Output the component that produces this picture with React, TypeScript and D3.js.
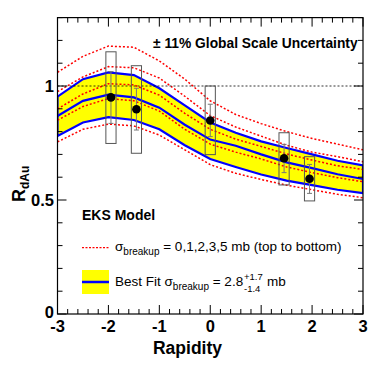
import React from "react";
import * as d3 from "d3";

// rapidity nodes where the model curves were read
const rapidity = [-3, -2.5, -2, -1.5, -1, -0.5, 0, 0.5, 1, 1.5, 2, 2.5, 3];

// EKS model, sigma_breakup = 0,1,2,3,5 mb
const eks0mb = [1.06, 1.13, 1.175, 1.17, 1.11, 1.03, 0.935, 0.875, 0.835, 0.8, 0.77, 0.745, 0.72];
const eks1mb = [0.975, 1.04, 1.085, 1.08, 1.035, 0.955, 0.87, 0.82, 0.78, 0.74, 0.71, 0.69, 0.668];
const eks2mb = [0.9, 0.965, 1.01, 1.005, 0.96, 0.88, 0.81, 0.767, 0.735, 0.702, 0.675, 0.65, 0.634];
const eks3mb = [0.85, 0.91, 0.945, 0.935, 0.89, 0.81, 0.745, 0.71, 0.68, 0.645, 0.62, 0.598, 0.58];
const eks5mb = [0.755, 0.81, 0.833, 0.825, 0.785, 0.72, 0.655, 0.617, 0.59, 0.565, 0.545, 0.525, 0.51];

// best fit band
const fitUpper = [0.953, 1.03, 1.06, 1.048, 0.99, 0.915, 0.84, 0.795, 0.757, 0.728, 0.7, 0.672, 0.652];
const fitCentral = [0.868, 0.935, 0.962, 0.95, 0.905, 0.83, 0.765, 0.738, 0.7, 0.665, 0.64, 0.613, 0.592];
const fitLower = [0.781, 0.84, 0.863, 0.851, 0.81, 0.74, 0.68, 0.645, 0.612, 0.585, 0.565, 0.545, 0.53];

// data points
const dataY = [-1.95, -1.45, 0.0, 1.45, 1.95];
const dataR = [0.95, 0.898, 0.849, 0.683, 0.593];
const statHi = [1.063, 0.99, 0.92, 0.744, 0.656];
const statLo = [0.836, 0.807, 0.778, 0.62, 0.529];
const sysHi = [1.15, 1.089, 1.0, 0.795, 0.69];
const sysLo = [0.748, 0.705, 0.699, 0.566, 0.496];

const xTickLabels = [-3, -2, -1, 0, 1, 2, 3];
const yTickLabels = [0, 0.5, 1];

const W = 383, H = 370;
const L = 57.5, R = 363, T = 17.6, B = 314;
const FONT = "Liberation Sans, Arial, Helvetica, sans-serif";

export default function App() {
  const x = d3.scaleLinear().domain([-3, 3]).range([L, R]);
  const y = d3.scaleLinear().domain([0, 1.3]).range([B, T]);

  const line = d3.line<[number, number]>().x(d => x(d[0])).y(d => y(d[1]));
  const pts = (vals: number[]) => rapidity.map((r, i) => [r, vals[i]] as [number, number]);
  const band = d3.area<number>()
    .x((_, i) => x(rapidity[i]))
    .y0((_, i) => y(fitLower[i]))
    .y1(d => y(d));

  const redCurves = [eks0mb, eks1mb, eks2mb, eks3mb, eks5mb];
  const xMinor = d3.range(-3, 3.001, 0.2).map(v => +v.toFixed(1));
  const yMinor = d3.range(0, 1.301, 0.1).map(v => +v.toFixed(1));
  const isMajorX = (v: number) => Math.abs(v - Math.round(v)) < 1e-6;
  const isMajorY = (v: number) => Math.abs(v * 2 - Math.round(v * 2)) < 1e-6;

  return (
    <svg width={W} height={H} style={{ position: "absolute", left: 0, top: 0, background: "#fff" }} fontFamily={FONT}>
      <defs>
        <clipPath id="plot">
          <rect x={L} y={T} width={R - L} height={B - T} />
        </clipPath>
      </defs>
      <g clipPath="url(#plot)">
        <path d={band(fitUpper) || ""} fill="#ffff00" stroke="#0000ff" strokeWidth={2.2} />
        <path d={line(pts(fitCentral)) || ""} fill="none" stroke="#0000ff" strokeWidth={2.2} />
        {redCurves.map((c, i) => (
          <path key={i} d={line(pts(c)) || ""} fill="none" stroke="#ff0000" strokeWidth={1.5} strokeDasharray="2,2" />
        ))}
        <line x1={L} x2={R} y1={y(1)} y2={y(1)} stroke="#000" strokeWidth={0.8} strokeDasharray="2,2" />
        {dataY.map((d, i) => (
          <g key={i}>
            <rect x={x(d - 0.1)} y={y(sysHi[i])} width={x(d + 0.1) - x(d - 0.1)} height={y(sysLo[i]) - y(sysHi[i])}
              fill="none" stroke="#555" strokeWidth={1} />
            <line x1={x(d)} x2={x(d)} y1={y(statHi[i])} y2={y(statLo[i])} stroke="#777" strokeWidth={1} />
            <line x1={x(d) - 2.5} x2={x(d) + 2.5} y1={y(statHi[i])} y2={y(statHi[i])} stroke="#777" strokeWidth={1} />
            <line x1={x(d) - 2.5} x2={x(d) + 2.5} y1={y(statLo[i])} y2={y(statLo[i])} stroke="#777" strokeWidth={1} />
            <circle cx={x(d)} cy={y(dataR[i])} r={4.3} fill="#000" />
          </g>
        ))}
      </g>

      {/* frame and ticks */}
      <rect x={L} y={T} width={R - L} height={B - T} fill="none" stroke="#000" strokeWidth={1.2} />
      {xMinor.map((v, i) => {
        const len = isMajorX(v) ? 9 : 5;
        return (
          <g key={i} stroke="#000" strokeWidth={1}>
            <line x1={x(v)} x2={x(v)} y1={B} y2={B - len} />
            <line x1={x(v)} x2={x(v)} y1={T} y2={T + len} />
          </g>
        );
      })}
      {yMinor.map((v, i) => {
        const len = isMajorY(v) ? 9 : 5;
        return (
          <g key={i} stroke="#000" strokeWidth={1}>
            <line x1={L} x2={L + len} y1={y(v)} y2={y(v)} />
            <line x1={R} x2={R - len} y1={y(v)} y2={y(v)} />
          </g>
        );
      })}
      {xTickLabels.map(v => (
        <text key={v} x={x(v)} y={332} textAnchor="middle" fontSize={16.5} fontWeight="bold">{v}</text>
      ))}
      {yTickLabels.map(v => (
        <text key={v} x={54} y={v === 0 ? y(v) + 4 : y(v) + 6} textAnchor="end" fontSize={16.5} fontWeight="bold">{v}</text>
      ))}

      <text x={222} y={354} textAnchor="end" fontSize={17.5} fontWeight="bold">Rapidity</text>
      <text transform="translate(25,202) rotate(-90)" fontSize={18} fontWeight="bold">
        R<tspan fontSize={12} dy={4}>dAu</tspan>
      </text>

      <text x={153} y={48} fontSize={13.8} fontWeight="bold">± 11% Global Scale Uncertainty</text>

      {/* legend */}
      <text x={82} y={220} fontSize={14} fontWeight="bold">EKS Model</text>
      <line x1={82} x2={109} y1={247.7} y2={247.7} stroke="#ff0000" strokeWidth={1.2} strokeDasharray="2,1.5" />
      <text x={115} y={251} fontSize={13.5}>
        σ<tspan fontSize={10} dy={4}>breakup</tspan><tspan dy={-4}> = 0,1,2,3,5 mb (top to bottom)</tspan>
      </text>
      <rect x={82} y={270} width={27} height={24} fill="#ffff00" />
      <line x1={82} x2={109} y1={282} y2={282} stroke="#0000ff" strokeWidth={2.5} />
      <text x={115} y={286} fontSize={13.5}>
        Best Fit σ<tspan fontSize={10} dy={4}>breakup</tspan><tspan dy={-4}> = 2.8</tspan>
      </text>
      <text x={244} y={280} fontSize={9.5}>+1.7</text>
      <text x={244} y={292} fontSize={9.5}>-1.4</text>
      <text x={267} y={286} fontSize={13.5}>mb</text>
    </svg>
  );
}
